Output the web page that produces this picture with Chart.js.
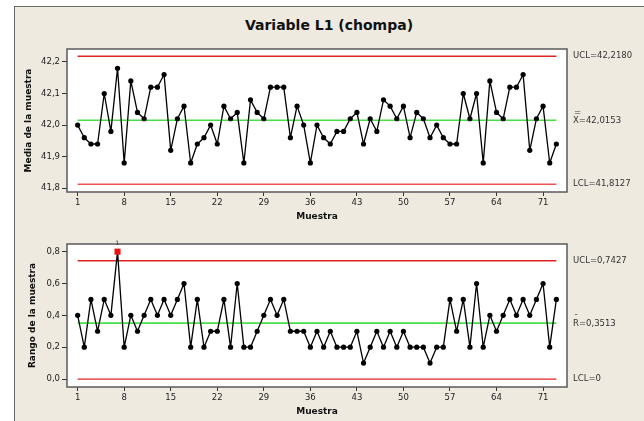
<!DOCTYPE html>
<html>
<head>
<meta charset="utf-8">
<script src="https://cdn.jsdelivr.net/npm/chart.js@4.4.1/dist/chart.umd.min.js"></script>
<style>
html, body { margin: 0; padding: 0; background: #fff; }
#wrap { position: relative; width: 644px; height: 421px; overflow: hidden; }
#frame { position: absolute; left: 14px; top: 6px; width: 650px; height: 440px; background: #EEEAE0; border: 1px solid #6a6a6a; box-sizing: border-box; }
#title { position: absolute; left: 14px; width: 630px; top: 17px; line-height: 16px; text-align: center; font: bold 14px "DejaVu Sans", sans-serif; color: #111; }
canvas { position: absolute; left: 0; top: 0; }
</style>
</head>
<body>
<div id="wrap">
  <div id="frame"></div>
  <div id="title">Variable L1 (chompa)</div>
  <canvas id="meanChart" width="644" height="421"></canvas>
  <canvas id="rangeChart" width="644" height="421"></canvas>
</div>
<script>
// Xbar-R chart data
const sampleNumbers = Array.from({ length: 73 }, (_, i) => i + 1);
const xTicks = [1, 8, 15, 22, 29, 36, 43, 50, 57, 64, 71];

const meanVals = [
    42.00, 41.96, 41.94, 41.94, 42.10, 41.98, 42.18, 41.88, 42.14, 42.04,
    42.02, 42.12, 42.12, 42.16, 41.92, 42.02, 42.06, 41.88, 41.94, 41.96,
    42.00, 41.94, 42.06, 42.02, 42.04, 41.88, 42.08, 42.04, 42.02, 42.12,
    42.12, 42.12, 41.96, 42.06, 42.00, 41.88, 42.00, 41.96, 41.94, 41.98,
    41.98, 42.02, 42.04, 41.94, 42.02, 41.98, 42.08, 42.06, 42.02, 42.06,
    41.96, 42.04, 42.02, 41.96, 42.00, 41.96, 41.94, 41.94, 42.10, 42.02,
    42.10, 41.88, 42.14, 42.04, 42.02, 42.12, 42.12, 42.16, 41.92, 42.02,
    42.06, 41.88, 41.94
];
const rangeVals = [
    0.4, 0.2, 0.5, 0.3, 0.5, 0.4, 0.8, 0.2, 0.4, 0.3,
    0.4, 0.5, 0.4, 0.5, 0.4, 0.5, 0.6, 0.2, 0.5, 0.2,
    0.3, 0.3, 0.5, 0.2, 0.6, 0.2, 0.2, 0.3, 0.4, 0.5,
    0.4, 0.5, 0.3, 0.3, 0.3, 0.2, 0.3, 0.2, 0.3, 0.2,
    0.2, 0.2, 0.3, 0.1, 0.2, 0.3, 0.2, 0.3, 0.2, 0.3,
    0.2, 0.2, 0.2, 0.1, 0.2, 0.2, 0.5, 0.3, 0.5, 0.2,
    0.6, 0.2, 0.4, 0.3, 0.4, 0.5, 0.4, 0.5, 0.4, 0.5,
    0.6, 0.2, 0.5
];

const meanTicks = [41.8, 41.9, 42.0, 42.1, 42.2];
const rangeTicks = [0, 0.2, 0.4, 0.6, 0.8];

const meanUCL = 42.2180, meanCL = 42.0153, meanLCL = 41.8127;
const rangeUCL = 0.7427, rangeCL = 0.3513, rangeLCL = 0;

const FONT = '"DejaVu Sans", sans-serif';
const RED = '#E02424';
const GREEN = '#46E046';

function commaNum(v, d) {
    return v.toFixed(d).replace('.', ',');
}

function limitLine(value, color, width) {
    return {
        data: [{ x: sampleNumbers[0], y: value }, { x: sampleNumbers[sampleNumbers.length - 1], y: value }],
        borderColor: color,
        borderWidth: width,
        pointRadius: 0,
        order: 2
    };
}

// white plot area + dark box around it
const plotBox = {
    id: 'plotBox',
    beforeDraw(chart) {
        const a = chart.chartArea, ctx = chart.ctx;
        ctx.save();
        ctx.fillStyle = '#fff';
        ctx.fillRect(a.left, a.top, a.right - a.left, a.bottom - a.top);
        ctx.restore();
    },
    afterDraw(chart) {
        const a = chart.chartArea, ctx = chart.ctx;
        ctx.save();
        ctx.strokeStyle = '#5a5a5a';
        ctx.lineWidth = 1.5;
        ctx.strokeRect(a.left, a.top, a.right - a.left, a.bottom - a.top);
        ctx.restore();
    }
};

// UCL / centre / LCL labels on the right side
const limitLabels = {
    id: 'limitLabels',
    afterDraw(chart, args, opts) {
        const ctx = chart.ctx, y = chart.scales.y, x0 = chart.chartArea.right + 6;
        ctx.save();
        ctx.font = '8.5px ' + FONT;
        ctx.fillStyle = '#333';
        ctx.textBaseline = 'middle';
        ctx.textAlign = 'left';
        opts.items.forEach(it => {
            const py = y.getPixelForValue(it.value) + (it.dy || 0);
            ctx.fillText(it.text, x0, py);
            if (it.bar) {
                ctx.fillText(it.bar, x0 + 1, py - it.barDy);
            }
        });
        // out-of-control marker label
        if (opts.flagged) {
            ctx.font = '6px ' + FONT;
            ctx.textAlign = 'center';
            opts.flagged.forEach(i => {
                const px = chart.scales.x.getPixelForValue(sampleNumbers[i]);
                const py = y.getPixelForValue(rangeVals[i]);
                ctx.fillText('1', px, py - 8);
            });
        }
        ctx.restore();
    }
};

function xAxis() {
    return {
        type: 'linear',
        min: -0.6,
        max: 74.6,
        afterBuildTicks: s => { s.ticks = xTicks.map(v => ({ value: v })); },
        afterFit: s => { s.height = 30; },
        grid: { drawOnChartArea: false, drawTicks: true, tickLength: 4, color: '#333' },
        border: { display: false },
        ticks: { padding: 2, autoSkip: false, maxRotation: 0, color: '#222', font: { family: FONT, size: 8.5 } },
        title: { display: true, text: 'Muestra', color: '#111', font: { family: FONT, size: 9, weight: 'bold' }, padding: { top: 0, bottom: 0 } }
    };
}

function yAxis(min, max, ticks, title, titlePad) {
    return {
        min: min,
        max: max,
        afterBuildTicks: s => { s.ticks = ticks.map(v => ({ value: v })); },
        afterFit: s => { s.width = 50; },
        grid: { drawOnChartArea: false, drawTicks: true, tickLength: 5, color: '#333' },
        border: { display: false },
        ticks: { padding: 2, color: '#222', font: { family: FONT, size: 8.5 }, callback: v => commaNum(v, 1) },
        title: { display: true, text: title, color: '#111', font: { family: FONT, size: 9, weight: 'bold' }, padding: { top: titlePad, bottom: 0 } }
    };
}

// Xbar chart
new Chart(document.getElementById('meanChart'), {
    type: 'line',
    data: {
        datasets: [{
            data: meanVals.map((v, i) => ({ x: sampleNumbers[i], y: v })),
            borderColor: '#000',
            borderWidth: 1.3,
            borderJoinStyle: 'round',
            pointRadius: 2.6,
            pointBackgroundColor: '#000',
            pointBorderWidth: 0,
            order: 1
        },
        limitLine(meanUCL, RED, 1.3),
        limitLine(meanCL, GREEN, 1.6),
        limitLine(meanLCL, '#F05252', 1.6)]
    },
    options: {
        responsive: false,
        animation: false,
        events: [],
        layout: { padding: { left: 17, right: 77, top: 49, bottom: 199 } },
        plugins: {
            legend: { display: false },
            tooltip: { enabled: false },
            limitLabels: {
                items: [
                    { value: meanUCL, text: 'UCL=' + commaNum(meanUCL, 4) },
                    { value: meanCL, text: 'X=' + commaNum(meanCL, 4), bar: '=', barDy: 8, dy: 1 },
                    { value: meanLCL, text: 'LCL=' + commaNum(meanLCL, 4) }
                ]
            }
        },
        scales: {
            x: xAxis(),
            y: yAxis(41.788, 42.241, meanTicks, 'Media de la muestra', 6.6)
        }
    },
    plugins: [plotBox, limitLabels]
});

// R chart
const outOfControl = rangeVals.map((v, i) => v > rangeUCL ? i : -1).filter(i => i >= 0);

new Chart(document.getElementById('rangeChart'), {
    type: 'line',
    data: {
        datasets: [{
            data: rangeVals.map((v, i) => ({ x: sampleNumbers[i], y: v })),
            borderColor: '#000',
            borderWidth: 1.3,
            borderJoinStyle: 'round',
            pointRadius: rangeVals.map(v => v > rangeUCL ? 4.3 : 2.6),
            pointStyle: rangeVals.map(v => v > rangeUCL ? 'rect' : 'circle'),
            pointBackgroundColor: rangeVals.map(v => v > rangeUCL ? '#EE1111' : '#000'),
            pointBorderWidth: 0,
            order: 1
        },
        limitLine(rangeUCL, RED, 1.3),
        limitLine(rangeCL, GREEN, 1.6),
        limitLine(rangeLCL, RED, 1.3)]
    },
    options: {
        responsive: false,
        animation: false,
        events: [],
        layout: { padding: { left: 17, right: 77, top: 244, bottom: 4 } },
        plugins: {
            legend: { display: false },
            tooltip: { enabled: false },
            limitLabels: {
                items: [
                    { value: rangeUCL, text: 'UCL=' + commaNum(rangeUCL, 4) },
                    { value: rangeCL, text: 'R=' + commaNum(rangeCL, 4), bar: '\u00AF', barDy: 5, dy: 1 },
                    { value: rangeLCL, text: 'LCL=0' }
                ],
                flagged: outOfControl
            }
        },
        scales: {
            x: xAxis(),
            y: yAxis(-0.050, 0.848, rangeTicks, 'Rango de la muestra', 10.6)
        }
    },
    plugins: [plotBox, limitLabels]
});
</script>
</body>
</html>
